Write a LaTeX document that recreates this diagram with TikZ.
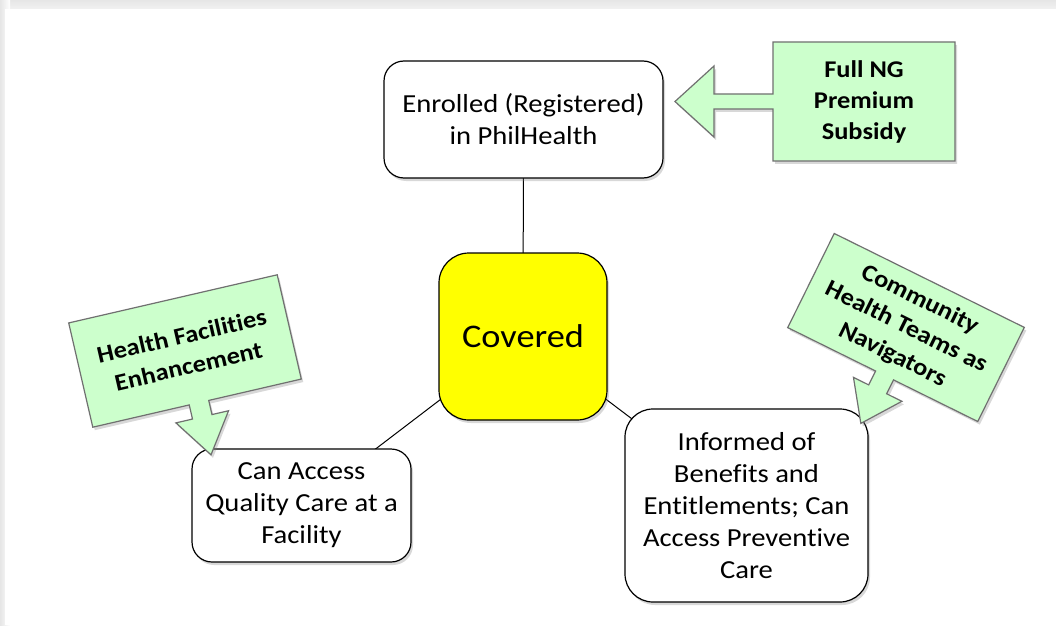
\documentclass[tikz,border=0pt]{standalone}
\usepackage{fontspec}
\setmainfont{Carlito}[FakeStretch=1.1, Ligatures=NoCommon]
\usetikzlibrary{shadows, backgrounds}
\definecolor{calloutgreen}{HTML}{CCFFCC}
\definecolor{calloutedge}{HTML}{707070}
\definecolor{coveredyellow}{HTML}{FFFF00}
\definecolor{framegray}{HTML}{E6E6E6}

\begin{document}
\begin{tikzpicture}[
  x=1pt, y=1pt,
  softshadow/.style={drop shadow={shadow xshift=2pt, shadow yshift=-3pt, opacity=0.3}},
  box/.style={draw=black, line width=1.2pt, fill=white, align=center, inner sep=0pt,
    font=\fontsize{26}{32}\selectfont, softshadow},
  callout/.style={draw=calloutedge, line width=1.2pt, fill=calloutgreen, softshadow},
  callouttext/.style={align=center, font=\bfseries\fontsize{24}{31}\selectfont},
  link/.style={draw=black, line width=1pt},
]
  \useasboundingbox (0,0) rectangle (1056,625);

  % the four boxes
  \node[box, rounded corners=20pt, minimum width=279pt, minimum height=117pt] (enrol) at (523.5,505.5) {Enrolled (Registered)\\in PhilHealth};
  \node[box, fill=coveredyellow, rounded corners=30pt, minimum width=168pt, minimum height=167pt,
    font=\fontsize{33}{40}\selectfont] (cov) at (523,288.5) {Covered};
  \node[box, rounded corners=20pt, minimum width=219pt, minimum height=113pt] (qual) at (301.5,119.5) {Can Access\\Quality Care at a\\Facility};
  \node[box, rounded corners=28pt, minimum width=243pt, minimum height=193pt] (info) at (746.5,119.5) {Informed of\\Benefits and\\Entitlements; Can\\Access Preventive\\Care};

  % frame and links behind the boxes
  \begin{scope}[on background layer]
    \shade[top color=framegray, bottom color=white] (0,605) rectangle (1056,625);
    \shade[left color=framegray, right color=white] (0,0) rectangle (10,625);
    \fill[white] (5,0) rectangle (1056,616);
    \draw[link] (enrol.center) -- (cov.center);
    \draw[link] (cov.center) -- (qual.center);
    \draw[link] (cov.center) -- (info.center);
  \end{scope}

  % subsidy callout
  \begin{scope}[shift={(864,523.5)}]
    \draw[callout] (-91,59.5) -- (91,59.5) -- (91,-59.5) -- (-91,-59.5) -- (-91,-7.5) -- (-150,-7.5)
      -- (-150,-35.5) -- (-189,0) -- (-150,35.5) -- (-150,7.5) -- (-91,7.5) -- cycle;
    \node[callouttext] (subsidy) at (0,0) {Full NG\\Premium\\Subsidy};
  \end{scope}

  % facilities callout
  \begin{scope}[shift={(185,274)}, rotate=13]
    \draw[callout] (-107,53.5) -- (107,53.5) -- (107,-53.5) -- (12,-53.5) -- (12,-68) -- (29,-68)
      -- (2,-107) -- (-25,-68) -- (-8,-68) -- (-8,-53.5) -- (-107,-53.5) -- cycle;
    \node[callouttext, rotate=13] (facil) at (0,0) {Health Facilities\\Enhancement};
  \end{scope}

  % health teams callout
  \begin{scope}[shift={(906,297.5)}, rotate=-26.3]
    \draw[callout] (-106,52.5) -- (106,52.5) -- (106,-52.5) -- (12,-52.5) -- (12,-68) -- (29,-68)
      -- (2,-106) -- (-25,-68) -- (-8,-68) -- (-8,-52.5) -- (-106,-52.5) -- cycle;
    \node[callouttext, rotate=-26.3] (chteam) at (0,0) {Community\\Health Teams as\\Navigators};
  \end{scope}
\end{tikzpicture}
\end{document}
